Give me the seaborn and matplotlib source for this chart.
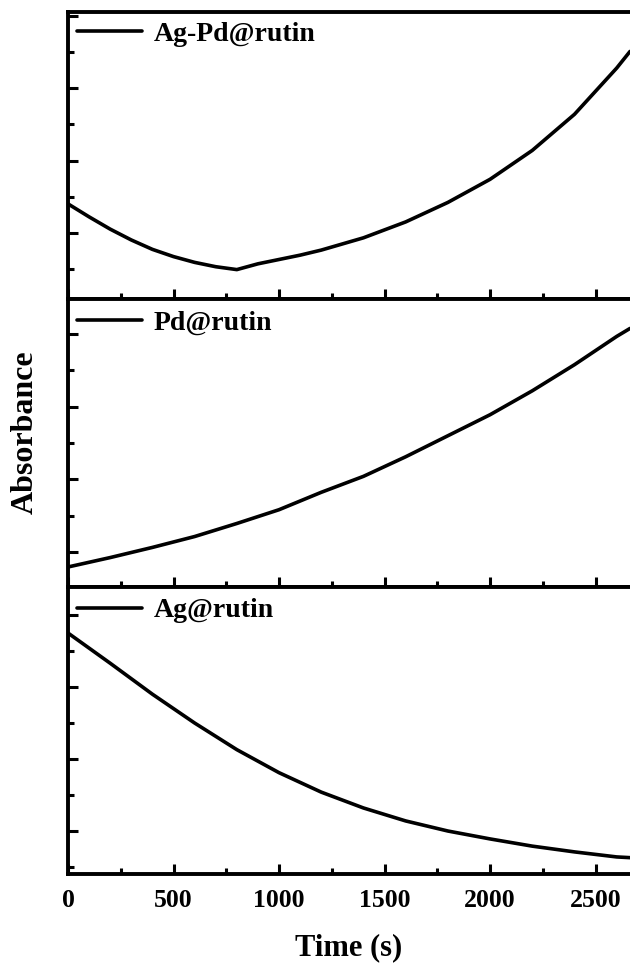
import numpy as np
import pandas as pd
import matplotlib
matplotlib.use("Agg")
import matplotlib.pyplot as plt
from matplotlib.ticker import MultipleLocator
import seaborn as sns

# Kinetic traces: absorbance vs. time for three catalysts
time_agpd = [0, 100, 200, 300, 400, 500, 600, 700, 800, 900, 1000, 1100, 1200,
             1400, 1600, 1800, 2000, 2200, 2400, 2600, 2663]
abs_agpd = [0.440, 0.422, 0.405, 0.390, 0.377, 0.367, 0.359, 0.353, 0.349,
            0.357, 0.363, 0.369, 0.376, 0.393, 0.415, 0.442, 0.474, 0.514,
            0.564, 0.628, 0.651]

time_pd = [0, 200, 400, 600, 800, 1000, 1200, 1400, 1600, 1800, 2000, 2200,
           2400, 2600, 2663]
abs_pd = [0.179, 0.192, 0.206, 0.221, 0.239, 0.258, 0.282, 0.304, 0.331,
          0.360, 0.389, 0.422, 0.458, 0.497, 0.508]

time_ag = [0, 200, 400, 600, 800, 1000, 1200, 1400, 1600, 1800, 2000, 2200,
           2400, 2600, 2663]
abs_ag = [0.575, 0.533, 0.490, 0.450, 0.413, 0.381, 0.354, 0.332, 0.314,
          0.300, 0.289, 0.279, 0.271, 0.264, 0.263]

labels = ["Ag-Pd@rutin", "Pd@rutin", "Ag@rutin"]
ylims = [(0.3083, 0.7056), (0.1514, 0.5486), (0.2403, 0.6389)]
xticks = [0, 500, 1000, 1500, 2000, 2500]

sns.set_theme(style="ticks")
plt.rcParams["font.family"] = ["Liberation Serif", "DejaVu Serif"]
plt.rcParams["font.weight"] = "bold"
plt.rcParams["text.color"] = "black"
plt.rcParams["axes.labelcolor"] = "black"
plt.rcParams["xtick.color"] = "black"
plt.rcParams["ytick.color"] = "black"

W, H = 630, 963
fig = plt.figure(figsize=(W / 100, H / 100), dpi=100)

left_px, right_px = 68, 630
tops = [12, 299, 587]
bots = [299, 587, 874]
legend_y = [0.968, 0.962, 0.962]

series = [(time_agpd, abs_agpd), (time_pd, abs_pd), (time_ag, abs_ag)]
for i, ((t, a), lab, yl) in enumerate(zip(series, labels, ylims)):
    ax = fig.add_axes([left_px / W, 1 - bots[i] / H,
                       (right_px - left_px) / W, (bots[i] - tops[i]) / H])
    df = pd.DataFrame({"Time (s)": t, "Absorbance": a})
    sns.lineplot(data=df, x="Time (s)", y="Absorbance", ax=ax, color="black",
                 linewidth=2.6, label=lab, solid_joinstyle="round")
    ax.set_xlim(0, 2663)
    ax.set_ylim(*yl)
    ax.xaxis.set_major_locator(MultipleLocator(500))
    ax.xaxis.set_minor_locator(MultipleLocator(250))
    ax.yaxis.set_major_locator(MultipleLocator(0.1))
    ax.yaxis.set_minor_locator(MultipleLocator(0.05))
    ax.tick_params(axis="both", which="major", direction="in", length=7,
                   width=2.2, color="black")
    ax.tick_params(axis="both", which="minor", direction="in", length=4,
                   width=2.2, color="black")
    ax.tick_params(axis="y", which="both", labelleft=False)
    ax.tick_params(axis="x", which="both", top=False, bottom=True)
    for side in ["left", "bottom", "top"]:
        ax.spines[side].set_linewidth(2.8)
        ax.spines[side].set_color("black")
    ax.spines["right"].set_visible(False)
    ax.set_ylabel("")
    ax.set_xlabel("")
    if i < 2:
        ax.tick_params(axis="x", labelbottom=False)
    else:
        ax.set_xticks(xticks)
        ax.set_xticklabels([str(v) for v in xticks], fontsize=18.5,
                           fontweight="bold")
        ax.tick_params(axis="x", pad=11)
        ax.set_xlabel("Time (s)", fontsize=22, fontweight="bold", labelpad=15)
    leg = ax.legend(loc="upper left",
                    bbox_to_anchor=(9 / (right_px - left_px), legend_y[i]),
                    frameon=False, borderpad=0, borderaxespad=0,
                    handlelength=2.35, handletextpad=0.4,
                    prop={"size": 20, "weight": "bold"})
    for line in leg.get_lines():
        line.set_linewidth(2.6)

fig.text(25 / W, 1 - 432 / H, "Absorbance", rotation=90, fontsize=23,
         fontweight="bold", ha="center", va="center")

fig.savefig("out.png", dpi=100, facecolor="white")
